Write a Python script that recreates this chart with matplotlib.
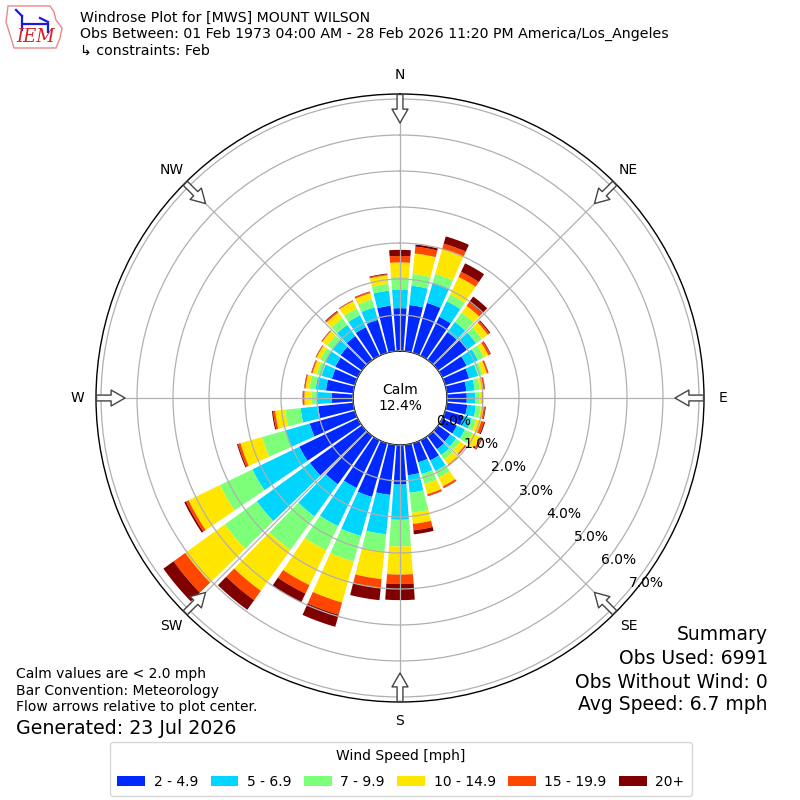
import numpy as np
import matplotlib
matplotlib.use("Agg")
import matplotlib.pyplot as plt
from matplotlib.patches import Patch, Polygon
from matplotlib.lines import Line2D

# ---------------- data ----------------
directions = np.arange(0, 360, 10)  # degrees, direction wind blows from
speed_labels = ["2 - 4.9", "5 - 6.9", "7 - 9.9", "10 - 14.9", "15 - 19.9", "20+"]

# cumulative percent at the outer edge of each speed class, per direction
cum_2_5 = [1.19, 1.29, 1.44, 1.20, 0.95, 1.00, 0.75, 0.69, 0.55, 0.55, 0.57, 0.53,
           0.45, 0.42, 0.45, 0.62, 0.55, 0.85, 1.10, 1.40, 1.55, 1.47, 1.65, 1.78,
           1.80, 1.30, 0.98, 0.59, 0.76, 0.66, 0.69, 0.73, 0.82, 0.88, 0.95, 1.27]
cum_5_7 = [1.71, 1.83, 2.03, 1.68, 1.30, 1.30, 1.10, 0.95, 0.78, 0.78, 0.81, 0.76,
           0.70, 0.62, 0.65, 0.95, 0.89, 1.34, 2.08, 2.50, 2.68, 2.65, 2.75, 3.60,
           3.25, 2.00, 1.47, 1.01, 1.05, 0.96, 1.00, 1.00, 1.20, 1.25, 1.31, 1.69]
cum_7_10 = [2.06, 2.16, 2.28, 1.89, 1.62, 1.50, 1.29, 1.08, 0.92, 0.90, 0.95, 0.90,
            0.93, 0.76, 0.80, 1.15, 1.18, 1.90, 2.82, 2.98, 3.42, 3.40, 3.90, 4.70,
            4.25, 2.68, 1.90, 1.15, 1.22, 1.10, 1.15, 1.19, 1.43, 1.46, 1.54, 1.88]
cum_10_15 = [2.46, 2.73, 2.99, 2.43, 1.85, 1.70, 1.42, 1.20, 1.02, 0.97, 1.03, 1.04,
             1.18, 0.92, 0.97, 1.42, 1.47, 2.21, 3.60, 3.75, 4.60, 4.47, 5.30, 6.05,
             5.22, 3.30, 2.18, 1.35, 1.33, 1.22, 1.27, 1.36, 1.62, 1.68, 1.72, 2.12]
cum_15_20 = [2.64, 2.92, 3.15, 2.59, 1.97, 1.76, 1.48, 1.24, 1.06, 0.99, 1.07, 1.12,
             1.23, 0.95, 1.00, 1.47, 1.52, 2.39, 3.86, 4.00, 4.95, 4.73, 5.62, 6.45,
             5.30, 3.37, 2.24, 1.39, 1.36, 1.25, 1.29, 1.38, 1.66, 1.70, 1.76, 2.15]
cum_20p = [2.81, 2.98, 3.36, 2.85, 2.17, 1.79, 1.50, 1.25, 1.07, 1.00, 1.09, 1.15,
           1.25, 0.96, 1.01, 1.48, 1.53, 2.50, 4.31, 4.34, 5.30, 5.00, 5.95, 6.80,
           5.35, 3.40, 2.27, 1.40, 1.37, 1.26, 1.30, 1.39, 1.68, 1.71, 1.77, 2.17]

calm_pct = 12.4
radial_ticks = [0, 1, 2, 3, 4, 5, 6, 7]
compass_deg = [0, 45, 90, 135, 180, 225, 270, 315]
compass_lbl = ["N", "NE", "E", "SE", "S", "SW", "W", "NW"]

title_lines = ["Windrose Plot for [MWS] MOUNT WILSON",
               "Obs Between: 01 Feb 1973 04:00 AM - 28 Feb 2026 11:20 PM America/Los_Angeles",
               "\u21b3 constraints: Feb"]
notes_lines = ["Calm values are < 2.0 mph", "Bar Convention: Meteorology",
               "Flow arrows relative to plot center."]
generated = "Generated: 23 Jul 2026"
summary_lines = ["Summary", "Obs Used: 6991", "Obs Without Wind: 0", "Avg Speed: 6.7 mph"]

# ---------------- figure ----------------
W = H = 800
fig = plt.figure(figsize=(8, 8), dpi=100)
plt.rcParams["font.family"] = ["DejaVu Sans"]

ax = fig.add_axes([0.12, 0.1225, 0.76, 0.76], projection="polar")
ax.set_theta_zero_location("N")
ax.set_theta_direction(-1)

tops = np.vstack([cum_2_5, cum_5_7, cum_7_10, cum_10_15, cum_15_20, cum_20p])
bottoms = np.vstack([np.zeros(len(directions)), tops[:-1]])
heights = tops - bottoms
colors = plt.cm.jet(np.arange(1, 7) / 6.0)

theta = np.deg2rad(directions)
for i in range(len(speed_labels)):
    ax.bar(theta, heights[i], width=np.deg2rad(8.4), bottom=bottoms[i],
           color=colors[i], edgecolor="none", linewidth=0, zorder=1)

rmax = 7.14
rorig = -1.3056
ax.set_ylim(0, rmax)
ax.set_rorigin(rorig)
ax.set_yticks(radial_ticks)
ax.set_yticklabels([])
ax.set_xticks(np.deg2rad(compass_deg))
ax.set_xticklabels([])
ax.tick_params(axis="both", length=0)
ax.grid(True, color="#b0b0b0", linewidth=0.9)
ax.set_axisbelow(False)
for s in ax.spines.values():
    s.set_color("black")
    s.set_linewidth(1.0)

# radial labels
for r in radial_ticks:
    ax.text(np.deg2rad(130), r, f"{r:.1f}%", ha="left", va="bottom",
            fontsize=10, zorder=5)

# compass labels and flow arrows
scale = 304.0 / (rmax - rorig)
r_lab = 323.0 / scale + rorig
r_tail = 303.5 / scale + rorig
r_head = 275.0 / scale + rorig
for d, lbl in zip(compass_deg, compass_lbl):
    th = np.deg2rad(d)
    ax.text(th, r_lab, lbl, ha="center", va="center", fontsize=10, clip_on=False)
    ax.annotate("", xy=(th, r_head), xytext=(th, r_tail), xycoords="data",
                textcoords="data", annotation_clip=False,
                arrowprops=dict(arrowstyle="simple,head_width=1.15,head_length=1.0,tail_width=0.42",
                                fc="white", ec="#444444", lw=1.0, shrinkA=0, shrinkB=0,
                                mutation_scale=10))

ax.text(0.5, 0.5, f"Calm\n{calm_pct:.1f}%", transform=ax.transAxes,
        ha="center", va="center", fontsize=10, zorder=6)

# ---------------- texts ----------------
fig.text(80 / W, 1 - 11 / H, "\n".join(title_lines), ha="left", va="top",
         fontsize=10.15, linespacing=1.2)
fig.text(16 / W, 1 - 667 / H, "\n".join(notes_lines), ha="left", va="top",
         fontsize=10, linespacing=1.25)
fig.text(16 / W, 1 - 729 / H, generated, ha="left", va="center", fontsize=13.7)
for k, (line, yc) in enumerate(zip(summary_lines, [635, 659, 682, 705])):
    fig.text(768 / W, 1 - yc / H, line, ha="right", va="center", fontsize=13.5)

# ---------------- IEM logo (approximate) ----------------
def fx(x):
    return x / W

def fy(y):
    return 1 - y / H

outline = [(8, 6), (50, 6), (54, 12), (56, 20), (62, 28), (60, 38), (56, 48),
           (14, 48), (11, 38), (6, 22)]
fig.add_artist(Polygon([(fx(x), fy(y)) for x, y in outline], closed=True,
                       fill=False, ec="#e88a8a", lw=1.0, transform=fig.transFigure))
for seg in [[(22, 24), (48, 24)], [(22, 16), (22, 30)], [(40, 18), (48, 22)],
            [(48, 24), (48, 32)], [(16, 10), (22, 16)]]:
    fig.add_artist(Line2D([fx(p[0]) for p in seg], [fy(p[1]) for p in seg],
                          color="#1a1adc", lw=1.6, transform=fig.transFigure))
fig.text(fx(36), fy(37), "IEM", ha="center", va="center", fontsize=13,
         color="#d82020", style="italic", family="DejaVu Serif")

# ---------------- legend ----------------
handles = [Patch(facecolor=colors[i], edgecolor="none") for i in range(len(speed_labels))]
fig.legend(handles, speed_labels, ncol=6, loc="upper center",
           bbox_to_anchor=(401 / W, 1 - 742 / H), borderaxespad=0,
           title="Wind Speed [mph]", fontsize=10, title_fontsize=10,
           handlelength=2.0, handleheight=0.7, columnspacing=0.88,
           handletextpad=0.63, labelspacing=0.85, frameon=True, borderpad=0.5)

fig.savefig("out.png", dpi=100)
